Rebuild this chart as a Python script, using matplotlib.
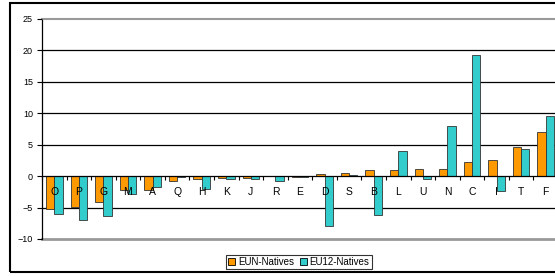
import numpy as np
import matplotlib.pyplot as plt
from matplotlib.patches import Patch, Rectangle

plt.rcParams['font.family'] = ['Liberation Sans', 'DejaVu Sans']

# data
categories = ['O', 'P', 'G', 'M', 'A', 'Q', 'H', 'K', 'J', 'R', 'E',
              'D', 'S', 'B', 'L', 'U', 'N', 'C', 'I', 'T', 'F']
eun_natives = [-5.2, -4.9, -4.1, -2.2, -2.2, -0.7, -0.4, -0.3, -0.3, -0.05, -0.1,
               0.3, 0.5, 1.0, 1.0, 1.1, 1.15, 2.3, 2.5, 4.6, 7.1]
eu12_natives = [-6.1, -7.0, -6.4, -2.9, -1.7, -0.1, -2.1, -0.5, -0.5, -0.8, -0.1,
                -8.0, 0.25, -6.2, 4.0, -0.5, 7.9, 19.2, -2.3, 4.3, 9.5]
yticks = [-10, -5, 0, 5, 10, 15, 20, 25]

orange = '#FF9900'
cyan = '#33CCCC'

W, H = 555, 276
fig = plt.figure(figsize=(W / 100, H / 100), dpi=100)

# chart border (right side runs off the picture)
fig.patches.append(Rectangle((10 / W, 1 - 272 / H), 1.0, (272 - 3) / H,
                             transform=fig.transFigure, fill=False,
                             edgecolor='black', linewidth=1.5))

left, right, top, bottom = 42, 558, 19, 239
ax = fig.add_axes([left / W, 1 - bottom / H, (right - left) / W, (bottom - top) / H])
ax.set_axisbelow(False)

x = np.arange(len(categories))
bw = 0.34
ax.bar(x - bw / 2, eun_natives, bw, color=orange, edgecolor='#333333', linewidth=0.6, zorder=2)
ax.bar(x + bw / 2, eu12_natives, bw, color=cyan, edgecolor='#333333', linewidth=0.6, zorder=2)

ax.set_xlim(-0.5, len(categories) - 0.5)
ax.set_ylim(-10, 25)
ax.set_yticks(yticks)
ax.tick_params(axis='y', direction='out', length=3.5, width=0.8, pad=3, labelsize=6.5)

# gridlines
for v in yticks[1:-1]:
    if v != 0:
        ax.axhline(v, color='black', linewidth=0.9, zorder=1)

# plot area border
ax.spines['top'].set_color('#999999')
ax.spines['top'].set_linewidth(1.5)
ax.spines['right'].set_visible(False)
ax.spines['left'].set_linewidth(0.9)
ax.axhline(-10, color='#999999', linewidth=2, zorder=1, clip_on=False)

# category axis crossing at zero
ax.spines['bottom'].set_position(('data', 0))
ax.spines['bottom'].set_linewidth(0.9)
ax.set_xticks(x)
ax.set_xticklabels(categories)
ax.set_xticks(np.arange(len(categories) + 1) - 0.5, minor=True)
ax.tick_params(axis='x', which='major', length=0, pad=8, labelsize=7.5)
ax.tick_params(axis='x', which='minor', direction='out', length=3, width=0.8)

handles = [Patch(facecolor=orange, edgecolor='black', linewidth=0.6, label='EUN-Natives'),
           Patch(facecolor=cyan, edgecolor='black', linewidth=0.6, label='EU12-Natives')]
leg = fig.legend(handles=handles, loc='center', bbox_to_anchor=(299 / W, 1 - 262 / H),
                 ncol=2, fontsize=7, frameon=True, fancybox=False, edgecolor='black',
                 handlelength=0.7, handleheight=0.7, handletextpad=0.3,
                 columnspacing=0.6, borderpad=0.25, borderaxespad=0)
leg.get_frame().set_linewidth(0.8)

fig.savefig('out.png', dpi=100)
